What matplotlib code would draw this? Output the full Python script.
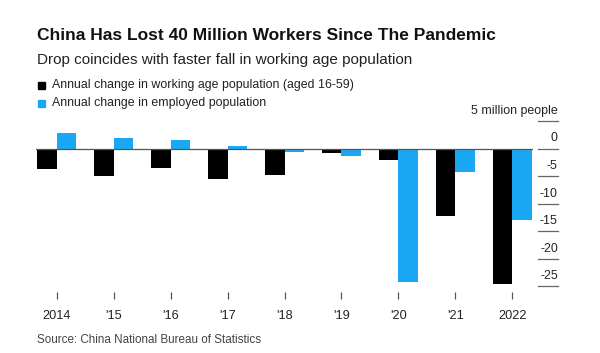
import matplotlib
matplotlib.use("Agg")
import matplotlib.pyplot as plt
from matplotlib.patches import Rectangle
import numpy as np

# Annual change, million people
years = ["2014", "'15", "'16", "'17", "'18", "'19", "'20", "'21", "2022"]
working_age = [-3.7, -4.9, -3.5, -5.6, -4.8, -0.8, -2.0, -12.2, -24.5]
employed = [2.8, 2.0, 1.5, 0.4, -0.7, -1.3, -24.1, -4.2, -12.9]
y_ticks = [5, 0, -5, -10, -15, -20, -25]
y_labels = ["5 million people", "0", "-5", "-10", "-15", "-20", "-25"]

BLACK = "#000000"
BLUE = "#1AA8F5"
W, H = 600, 353

plt.rcParams["font.family"] = ["Liberation Sans", "DejaVu Sans"]

fig = plt.figure(figsize=(W / 100, H / 100), dpi=100)
fig.patch.set_facecolor("white")

def fx(px):
    return px / W

def fy(py):
    return 1 - py / H

# plot area: x 36..533 px, y 121..292 px
ax = fig.add_axes([fx(36), fy(292), fx(533 - 36), (292 - 121) / H])
x = np.arange(len(years))
bw = 0.34
ax.bar(x - bw / 2, working_age, width=bw, color=BLACK, zorder=2)
ax.bar(x + bw / 2, employed, width=bw, color=BLUE, zorder=2)
ax.axhline(0, color="#555555", lw=0.9, zorder=3)

ax.set_xlim(-0.36, len(years) - 1 + 0.36)
ax.set_ylim(-26, 5)
for s in ax.spines.values():
    s.set_visible(False)

ax.set_yticks([])
ax.set_xticks(x)
ax.set_xticklabels(years, fontsize=9.2, color="#222222")
ax.tick_params(axis="x", length=5, width=0.9, color="#555555", pad=8)

# right-hand value scale: short rules with labels sitting above them
ytr = ax.get_yaxis_transform()
for v, lab in zip(y_ticks, y_labels):
    ax.plot([1.01, 1.05], [v, v], color="#666666", lw=0.9,
            transform=ytr, clip_on=False)
    ax.annotate(lab, xy=(1.05, v), xycoords=ytr, xytext=(0, 3),
                textcoords="offset points", ha="right", va="bottom",
                fontsize=8.9, color="#222222")

# header
fig.text(fx(37), fy(35), "China Has Lost 40 Million Workers Since The Pandemic",
         fontsize=12.5, fontweight="bold", va="center", color="#111111")
fig.text(fx(37), fy(60), "Drop coincides with faster fall in working age population",
         fontsize=11, va="center", color="#222222")

# legend
for py, col, lab in [(85, BLACK, "Annual change in working age population (aged 16-59)"),
                     (103, BLUE, "Annual change in employed population")]:
    fig.patches.append(Rectangle((fx(38), fy(py + 3.5)), fx(7), 7 / H,
                                 color=col, transform=fig.transFigure))
    fig.text(fx(52), fy(py), lab, fontsize=8.9, va="center", color="#222222")

fig.text(fx(37), fy(340), "Source: China National Bureau of Statistics",
         fontsize=8.4, va="center", color="#444444")

fig.savefig("out.png", dpi=100)
